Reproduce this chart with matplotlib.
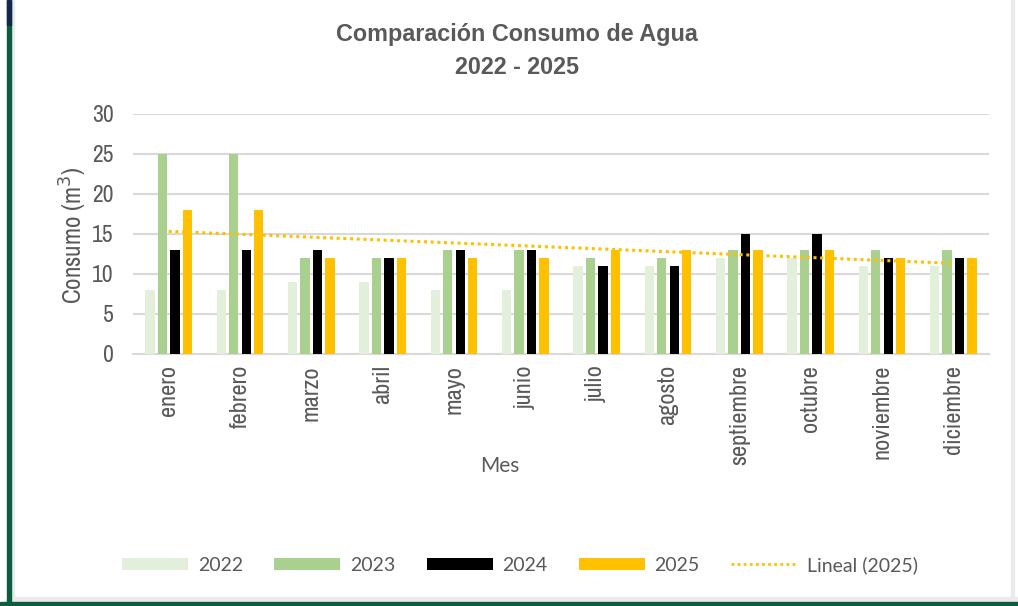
import numpy as np
import matplotlib
matplotlib.use("Agg")
import matplotlib.pyplot as plt
from matplotlib import font_manager
from matplotlib.patches import Rectangle, Patch
from matplotlib.lines import Line2D

meses = ["enero", "febrero", "marzo", "abril", "mayo", "junio", "julio",
         "agosto", "septiembre", "octubre", "noviembre", "diciembre"]
c2022 = [8, 8, 9, 9, 8, 8, 11, 11, 12, 12, 11, 11]
c2023 = [25, 25, 12, 12, 13, 13, 12, 12, 13, 13, 13, 13]
c2024 = [13, 13, 13, 12, 13, 13, 11, 11, 15, 15, 12, 12]
c2025 = [18, 18, 12, 12, 12, 12, 13, 13, 13, 13, 12, 12]
years = ["2022", "2023", "2024", "2025"]
yticks = [0, 5, 10, 15, 20, 25, 30]

colors = ["#E2EFDA", "#A9D08E", "#000000", "#FFC000"]
txt = "#595959"

names = sorted({f.name for f in font_manager.fontManager.ttflist})
narrow_found = [n for n in names if "Narrow" in n or "Condensed" in n]
if narrow_found:
    narrow = [narrow_found[0], "Liberation Sans", "DejaVu Sans"]
    tick_sz, xt_sz, yl_sz = 17, 17.5, 18
else:
    narrow = ["Liberation Sans", "DejaVu Sans"]
    tick_sz, xt_sz, yl_sz = 14.5, 14, 15
calib = ["Lato", "DejaVu Sans"]

fig = plt.figure(figsize=(10.18, 6.06), dpi=100)
fig.patch.set_facecolor("white")

# frame decorations
fig.patches.append(Rectangle((11/1018, 4/606), 3/1018, 1, transform=fig.transFigure,
                             color="#EBEBEB", zorder=0))
fig.patches.append(Rectangle((1011/1018, 4/606), 3/1018, 1, transform=fig.transFigure,
                             color="#EBEBEB", zorder=0))
fig.patches.append(Rectangle((11/1018, 4/606), 1, 5/606, transform=fig.transFigure,
                             color="#EBEBEB", zorder=0))
fig.patches.append(Rectangle((7/1018, 0), 4/1018, 1, transform=fig.transFigure,
                             color="#0E5C40", zorder=1))
fig.patches.append(Rectangle((7/1018, 1-25/606), 4/1018, 25/606, transform=fig.transFigure,
                             color="#13294B", zorder=1))
fig.patches.append(Rectangle((0, 0), 1, 4/606, transform=fig.transFigure,
                             color="#0E5C40", zorder=1))

ax = fig.add_axes([133/1018, 1-354/606, 856/1018, 240/606])
x = np.arange(len(meses))
slot = 0.174
bw = 0.13
series = [c2022, c2023, c2024, c2025]
for i, (vals, col, yr) in enumerate(zip(series, colors, years)):
    ax.bar(x + (i - 1.5) * slot, vals, width=bw, color=col, zorder=3, label=yr)

coef = np.polyfit(x, c2025, 1)
ax.plot(x, np.polyval(coef, x), linestyle=(0, (1, 1.2)), color="#FFC000", lw=2.2,
        zorder=4, label="Lineal (2025)")

ax.set_xlim(-0.5, len(meses) - 0.5)
ax.set_ylim(0, 30)
ax.set_yticks(yticks)
ax.yaxis.grid(True, color="#D9D9D9", lw=1.5, zorder=0)
ax.set_axisbelow(True)
for s in ["top", "right", "left"]:
    ax.spines[s].set_visible(False)
ax.spines["bottom"].set_color("#D9D9D9")
ax.spines["bottom"].set_linewidth(1.5)
ax.tick_params(axis="both", length=0, colors=txt)
ax.set_xticks(x)
ax.set_xticklabels(meses, rotation=90, fontsize=xt_sz, family=narrow, color=txt)
for lab in ax.get_yticklabels():
    lab.set_fontsize(tick_sz)
    lab.set_family(narrow)
    lab.set_color(txt)
ax.tick_params(axis="y", pad=14)
ax.tick_params(axis="x", pad=8)

fig.text(73/1018, 1-235/606, "Consumo (m$^3$)", rotation=90, ha="center", va="center",
         fontsize=yl_sz, family=narrow, color=txt)
fig.text(500/1018, 1-466/606, "Mes", ha="center", va="center",
         fontsize=15, family=calib, color=txt)
fig.text(517/1018, 1-35/606, "Comparación Consumo de Agua", ha="center", va="center",
         fontsize=16.8, family=["Liberation Sans", "DejaVu Sans"], fontweight="bold", color=txt)
fig.text(517/1018, 1-68/606, "2022 - 2025", ha="center", va="center",
         fontsize=16.8, family=["Liberation Sans", "DejaVu Sans"], fontweight="bold", color=txt)

handles = [Patch(facecolor=c, edgecolor="none") for c in colors]
handles.append(Line2D([0], [0], color="#FFC000", lw=2, linestyle=(0, (1, 1.2))))
labels = years + ["Lineal (2025)"]
leg = fig.legend(handles, labels, loc="center", bbox_to_anchor=(520/1018, 1-565/606),
                 ncol=5, frameon=False, handlelength=3.4, handleheight=0.6,
                 handletextpad=0.5, columnspacing=1.6,
                 prop={"family": calib, "size": 14})
for t in leg.get_texts():
    t.set_color(txt)

fig.savefig("out.png", dpi=100, facecolor="white")
